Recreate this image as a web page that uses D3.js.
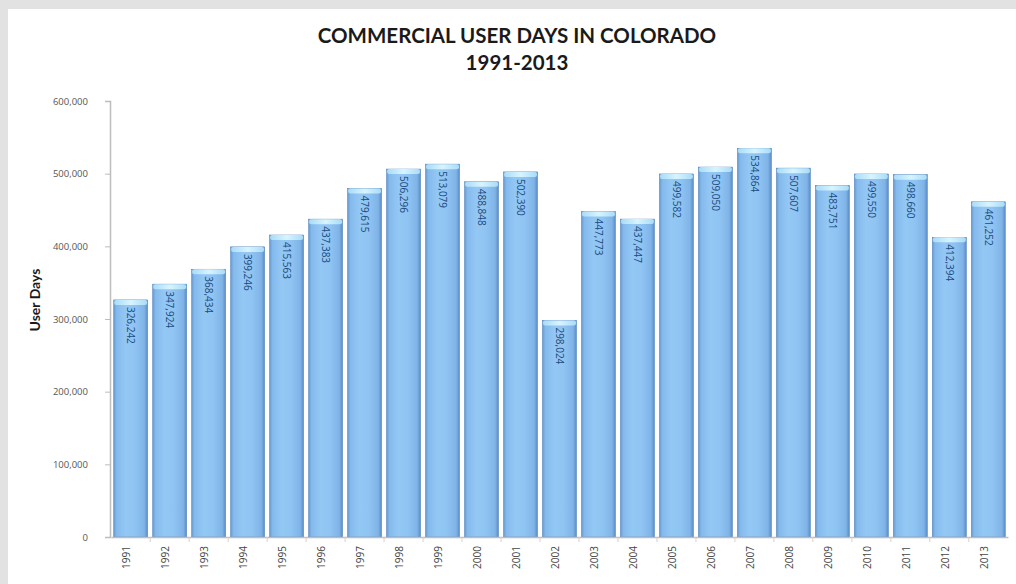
<!DOCTYPE html>
<html>
<head>
<meta charset="utf-8">
<script src="https://cdn.jsdelivr.net/npm/d3@7"></script>
<style>
  html, body { margin: 0; padding: 0; background: #e2e2e2; }
  svg { display: block; }
</style>
</head>
<body>
<svg id="chart" width="1016" height="584"></svg>
<script>
// Commercial user days, Colorado, by year
const years = ["1991","1992","1993","1994","1995","1996","1997","1998","1999","2000","2001","2002",
               "2003","2004","2005","2006","2007","2008","2009","2010","2011","2012","2013"];
const userDays = [326242, 347924, 368434, 399246, 415563, 437383, 479615, 506296, 513079, 488848,
                  502390, 298024, 447773, 437447, 499582, 509050, 534864, 507607, 483751, 499550,
                  498660, 412394, 461252];
const yTicks = [0, 100000, 200000, 300000, 400000, 500000, 600000];
const titleLines = ["COMMERCIAL USER DAYS IN COLORADO", "1991-2013"];
const yAxisTitle = "User Days";

const svg = d3.select("#chart");
const W = 1016, H = 584;
const margin = { left: 110, right: 8, top: 101, bottom: 47 };

// white panel inside the grey frame
svg.append("rect").attr("x", 8).attr("y", 9).attr("width", W - 8).attr("height", H - 9).attr("fill", "#ffffff");

const x = d3.scaleBand().domain(years).range([margin.left + 1, W - margin.right]).paddingInner(0.13).paddingOuter(0.07);
const y = d3.scaleLinear().domain([0, 600000]).range([H - margin.bottom, margin.top]);

const defs = svg.append("defs");
const g = defs.append("linearGradient").attr("id", "barFill").attr("x1", "0").attr("x2", "1").attr("y1", "0").attr("y2", "0");
[[0, "#6699d2"], [0.08, "#84b9ec"], [0.35, "#93c8f5"], [0.6, "#90c5f3"], [0.9, "#80b4e8"], [1, "#5a8cc6"]]
  .forEach(([o, c]) => g.append("stop").attr("offset", o).attr("stop-color", c));
const cap = defs.append("linearGradient").attr("id", "capFill").attr("x1", "0").attr("x2", "1").attr("y1", "0").attr("y2", "0");
[[0, "#a8dcf7"], [0.5, "#d8f4ff"], [1, "#a8dcf7"]]
  .forEach(([o, c]) => cap.append("stop").attr("offset", o).attr("stop-color", c));
const blur = defs.append("filter").attr("id", "soft").attr("x", "-5%").attr("y", "-50%").attr("width", "110%").attr("height", "200%");
blur.append("feGaussianBlur").attr("stdDeviation", 0.7);

// gridlines
const grid = svg.append("g");
grid.selectAll("line.grid").data(yTicks.filter(d => d > 0)).join("line")
  .attr("x1", margin.left).attr("x2", W - margin.right)
  .attr("y1", d => y(d)).attr("y2", d => y(d))
  .attr("stroke", "#c4c4c4").attr("stroke-width", 1.6).attr("filter", "url(#soft)");

// y axis
const yAxis = d3.axisLeft(y).tickValues(yTicks).tickSize(5).tickPadding(17)
  .tickFormat(d => d3.format(",")(d));
const ya = svg.append("g").attr("transform", `translate(${margin.left},0)`).call(yAxis);
ya.select(".domain").attr("stroke", "#bdbdbd").attr("stroke-width", 1.5);
ya.selectAll(".tick line").attr("stroke", "#bdbdbd");
ya.selectAll(".tick text").attr("fill", "#555").style("font-family", "'Open Sans', sans-serif").style("font-size", "9.5px");

// bars
const bars = svg.append("g").selectAll("g").data(years.map((yr, i) => ({ yr, v: userDays[i] }))).join("g");
bars.append("rect")
  .attr("x", d => x(d.yr)).attr("width", x.bandwidth())
  .attr("y", d => y(d.v)).attr("height", d => y(0) - y(d.v))
  .attr("fill", "url(#barFill)").attr("stroke", "#5585bd").attr("stroke-width", 0.6);
bars.append("rect")
  .attr("x", d => x(d.yr) + 0.5).attr("width", x.bandwidth() - 1)
  .attr("y", d => y(d.v)).attr("height", 5).attr("rx", 2)
  .attr("fill", "url(#capFill)");

// value labels, reading downward from the top of each bar
bars.append("text")
  .attr("transform", d => `translate(${x(d.yr) + x.bandwidth() / 2 - 3.5},${y(d.v) + 7}) rotate(90)`)
  .attr("fill", "#1c4a7e").style("font-family", "'Open Sans', sans-serif").style("font-size", "10px")
  .text(d => d3.format(",")(d.v));

// x axis with year labels reading upward
const xAxis = d3.axisBottom(x).tickSize(0).tickPadding(0);
const xa = svg.append("g").attr("transform", `translate(0,${y(0)})`).call(xAxis);
xa.select(".domain").attr("stroke", "#bdbdbd").attr("stroke-width", 1.5);
xa.selectAll(".tick text")
  .attr("transform", "translate(-4,9) rotate(-90)")
  .attr("text-anchor", "end").attr("dy", "0.35em").attr("y", 0)
  .attr("fill", "#444").style("font-family", "'Open Sans', sans-serif").style("font-size", "10px");
// small separators between categories
xa.selectAll("line.sep").data(years.slice(1)).join("line").attr("class", "sep")
  .attr("x1", d => x(d) - x.step() * x.paddingInner() / 2).attr("x2", d => x(d) - x.step() * x.paddingInner() / 2)
  .attr("y1", 0).attr("y2", 5).attr("stroke", "#d8d0c8");

// titles
svg.append("g").selectAll("text").data(titleLines).join("text")
  .attr("x", 517).attr("y", (d, i) => 43 + i * 27)
  .attr("text-anchor", "middle").attr("fill", "#1a1a1a")
  .style("font-family", "Lato, 'Open Sans', sans-serif").style("font-weight", "bold").style("font-size", "20.5px")
  .text(d => d);

svg.append("text")
  .attr("transform", `translate(40,300) rotate(-90)`)
  .attr("text-anchor", "middle").attr("fill", "#1a1a1a")
  .style("font-family", "Lato, 'Open Sans', sans-serif").style("font-weight", "bold").style("font-size", "14px")
  .text(yAxisTitle);
</script>
</body>
</html>
